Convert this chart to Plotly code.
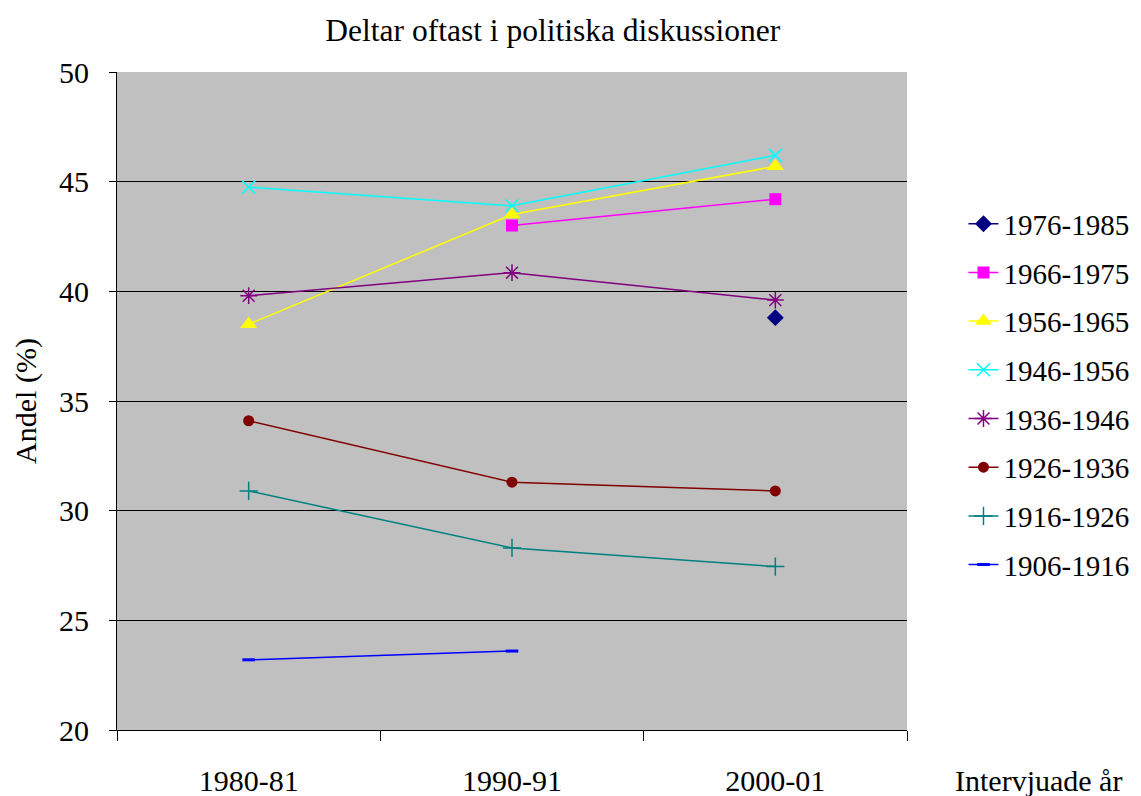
import plotly.graph_objects as go

# survey rounds on the x axis
rounds = ["1980-81", "1990-91", "2000-01"]

# share (%) that most often take part in political discussions, per birth cohort
cohorts = ["1976-1985", "1966-1975", "1956-1965", "1946-1956",
           "1936-1946", "1926-1936", "1916-1926", "1906-1916"]
v_1976 = [None, None, 38.8]
v_1966 = [None, 43.0, 44.2]
v_1956 = [38.5, 43.5, 45.7]
v_1946 = [44.75, 43.9, 46.2]
v_1936 = [39.8, 40.85, 39.6]
v_1926 = [34.1, 31.3, 30.9]
v_1916 = [30.9, 28.3, 27.45]
v_1906 = [23.2, 23.6, None]

values = [v_1976, v_1966, v_1956, v_1946, v_1936, v_1926, v_1916, v_1906]
colors = ["#000080", "#FF00FF", "#FFFF00", "#00FFFF",
          "#800080", "#800000", "#008080", "#0000FF"]
symbols = ["diamond", "square", "triangle-up", "x-thin-open",
           "asterisk-open", "circle", "cross-thin-open", "line-ew-open"]
sizes = [13, 12, 15, 13, 14, 11, 13, 9]

FONT = "Liberation Serif"

fig = go.Figure()
for i, name in enumerate(cohorts):
    thin = symbols[i].endswith("-open")
    fig.add_trace(go.Scatter(
        x=rounds, y=values[i], name=name, mode="lines+markers",
        legendgroup=name,
        line=dict(color=colors[i], width=1.5),
        marker=dict(symbol=symbols[i], size=sizes[i], color=colors[i],
                    line=dict(color=colors[i], width=3 if symbols[i] == "line-ew-open" else (1.5 if thin else 0))),
    ))

# page body adds 8px on the left/top, so margins are 8px smaller there
fig.update_layout(
    width=1141, height=796,
    margin=dict(l=109, r=242, t=64, b=74, autoexpand=False),
    paper_bgcolor="white", plot_bgcolor="#C0C0C0",
    font=dict(family=FONT, size=30, color="black"),
    title=dict(text="Deltar oftast i politiska diskussioner", x=0.4775, xanchor="center",
               y=0.972, yanchor="middle", font=dict(size=31.5)),
    showlegend=True,
    legend=dict(x=1.0715, xanchor="left", y=0.808, yanchor="top",
                traceorder="grouped", tracegroupgap=8,
                font=dict(size=29), bgcolor="rgba(0,0,0,0)"),
    annotations=[dict(text="Intervjuade år", xref="paper", yref="paper",
                      x=1.166, y=-0.076, xanchor="center", yanchor="middle",
                      showarrow=False, font=dict(size=30))],
)
fig.update_xaxes(type="category", range=[-0.5, 2.5], tickson="boundaries",
                 ticks="outside", ticklen=10, tickcolor="black",
                 showline=True, linecolor="black", linewidth=1,
                 showgrid=False, ticklabelstandoff=24, automargin=False)
fig.update_yaxes(range=[20, 50], dtick=5, ticks="outside", ticklen=7,
                 tickcolor="black", showline=True, linecolor="black", linewidth=1,
                 showgrid=True, gridcolor="black", gridwidth=1, zeroline=False,
                 ticklabelstandoff=14, automargin=False,
                 title=dict(text="Andel (%)", standoff=13, font=dict(size=30)))

fig.write_html("out.html")
